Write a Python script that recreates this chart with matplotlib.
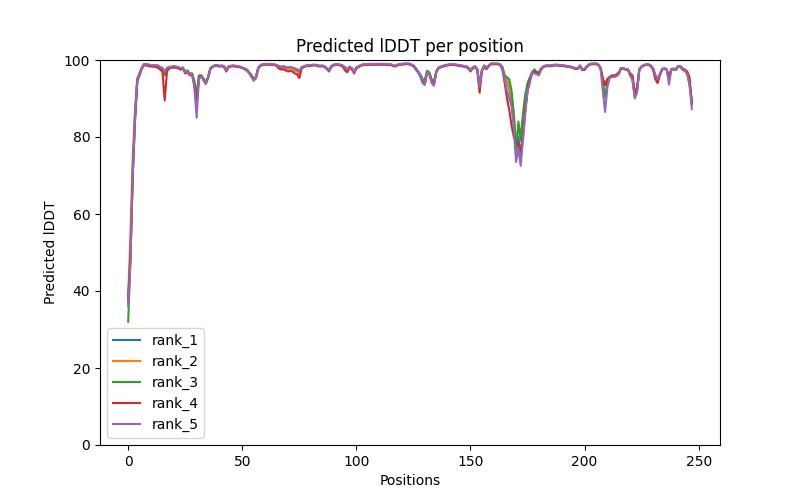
import matplotlib
matplotlib.use("Agg")
import matplotlib.pyplot as plt

rank_1 = [
    37.0, 50.0, 72.0, 86.0, 95.0, 96.5, 98.0, 98.9, 98.9, 98.7,
    98.6, 98.6, 98.5, 98.5, 98.0, 97.8, 96.5, 97.8, 98.0, 98.2,
    98.3, 98.2, 98.0, 97.8, 98.0, 96.8, 97.0, 96.3, 96.5, 94.0,
    88.0, 95.5, 96.0, 95.0, 94.0, 95.5, 97.8, 98.3, 98.6, 98.6,
    98.4, 98.5, 98.3, 97.3, 98.3, 98.4, 98.5, 98.4, 98.3, 98.2,
    98.0, 97.8, 97.5, 96.8, 96.0, 95.0, 95.5, 98.0, 98.6, 98.8,
    98.9, 98.9, 98.9, 98.8, 98.8, 98.6, 98.4, 98.0, 98.2, 98.0,
    97.8, 98.0, 97.8, 97.5, 97.3, 96.8, 98.0, 98.3, 98.5, 98.5,
    98.6, 98.7, 98.7, 98.6, 98.4, 98.5, 98.3, 97.8, 97.0, 98.3,
    98.7, 98.8, 98.8, 98.7, 98.5, 98.0, 97.5, 98.2, 97.8, 96.8,
    98.0, 98.3, 98.6, 98.8, 98.8, 98.8, 98.9, 98.9, 98.9, 98.9,
    98.9, 98.9, 98.9, 98.9, 98.8, 98.8, 98.6, 98.4, 98.7, 98.9,
    98.9, 99.0, 99.0, 99.0, 98.8, 98.5, 97.8, 97.0, 96.0, 94.5,
    94.0, 97.0, 96.5, 94.5, 93.8, 97.0, 98.0, 98.2, 98.4, 98.6,
    98.7, 98.8, 98.8, 98.8, 98.7, 98.6, 98.5, 98.4, 98.3, 98.0,
    97.3, 98.0, 98.3, 97.5, 93.0, 97.3, 98.5, 97.8, 98.5, 99.0,
    99.0, 99.0, 99.0, 98.8, 98.0, 95.5, 94.5, 92.5, 89.0, 84.0,
    76.0, 80.0, 75.0, 81.0, 87.0, 92.0, 94.5, 96.5, 97.5, 96.8,
    96.8, 97.8, 98.3, 98.5, 98.5, 98.5, 98.6, 98.7, 98.7, 98.6,
    98.6, 98.5, 98.4, 98.3, 98.2, 98.0, 97.8, 97.8, 98.5, 97.5,
    97.5, 98.3, 98.8, 99.0, 99.0, 99.0, 98.8, 98.0, 95.0, 93.5,
    95.0, 95.5, 95.8, 95.8, 96.0, 96.5, 97.8, 97.8, 97.5, 97.5,
    96.3, 95.5, 91.0, 92.5, 97.5, 98.3, 98.6, 98.8, 98.8, 98.5,
    97.8, 96.0, 95.0, 96.3, 97.6, 97.8, 97.5, 95.0, 97.5, 97.6,
    97.4, 98.3, 98.3, 97.5, 97.2, 96.5, 94.0, 89.0,
]

rank_2 = [
    39.0, 55.0, 75.0, 87.0, 95.2, 96.6, 98.0, 98.9, 98.9, 98.7,
    98.6, 98.6, 98.5, 98.5, 98.0, 97.8, 96.8, 97.8, 98.0, 98.2,
    98.3, 98.2, 98.0, 97.8, 98.0, 96.8, 97.0, 96.3, 96.5, 94.0,
    89.0, 95.5, 96.0, 95.0, 94.0, 95.5, 97.8, 98.3, 98.6, 98.6,
    98.4, 98.5, 98.3, 97.3, 98.3, 98.4, 98.5, 98.4, 98.3, 98.2,
    98.0, 97.8, 97.5, 96.8, 96.0, 95.0, 95.5, 98.0, 98.6, 98.8,
    98.9, 98.9, 98.9, 98.8, 98.8, 98.6, 98.3, 97.8, 98.0, 97.8,
    97.6, 97.8, 97.6, 97.2, 97.0, 96.4, 98.0, 98.3, 98.5, 98.5,
    98.6, 98.7, 98.7, 98.6, 98.4, 98.5, 98.3, 97.8, 97.4, 98.3,
    98.7, 98.8, 98.8, 98.7, 98.5, 98.0, 97.5, 98.2, 97.8, 96.8,
    98.0, 98.3, 98.6, 98.8, 98.8, 98.8, 98.9, 98.9, 98.9, 98.9,
    98.9, 98.9, 98.9, 98.9, 98.8, 98.8, 98.6, 98.4, 98.7, 98.9,
    98.9, 99.0, 99.0, 99.0, 98.8, 98.5, 97.8, 97.0, 96.0, 94.8,
    94.3, 97.0, 96.5, 94.5, 94.0, 97.0, 98.0, 98.2, 98.4, 98.6,
    98.7, 98.8, 98.8, 98.8, 98.7, 98.6, 98.5, 98.4, 98.3, 98.0,
    97.5, 98.0, 98.3, 97.5, 93.0, 97.3, 98.5, 97.8, 98.5, 99.0,
    99.0, 99.0, 99.0, 98.8, 98.0, 95.5, 94.8, 93.0, 90.0, 86.0,
    78.0, 83.0, 80.5, 85.0, 90.0, 93.0, 95.0, 96.5, 97.5, 96.8,
    96.8, 97.8, 98.3, 98.5, 98.5, 98.5, 98.6, 98.7, 98.7, 98.6,
    98.6, 98.5, 98.4, 98.3, 98.2, 98.0, 97.8, 97.8, 98.5, 97.5,
    97.5, 98.3, 98.8, 99.0, 99.0, 99.0, 98.8, 98.0, 95.2, 93.8,
    95.0, 95.5, 95.8, 95.8, 96.0, 96.5, 97.8, 97.8, 97.5, 97.5,
    96.0, 95.0, 91.0, 92.0, 97.5, 98.3, 98.6, 98.8, 98.8, 98.5,
    97.8, 96.0, 95.0, 96.3, 97.6, 97.8, 97.5, 95.2, 97.5, 97.6,
    97.4, 98.3, 98.3, 97.5, 97.2, 96.5, 94.5, 89.2,
]

rank_3 = [
    32.0, 48.0, 70.0, 85.0, 95.0, 96.5, 98.0, 98.9, 98.9, 98.7,
    98.6, 98.6, 98.5, 98.5, 98.0, 97.6, 96.0, 97.6, 98.0, 98.2,
    98.3, 98.2, 98.0, 97.8, 98.0, 97.0, 97.3, 96.5, 96.5, 94.5,
    91.0, 96.0, 96.0, 95.2, 94.3, 95.5, 97.8, 98.3, 98.6, 98.6,
    98.4, 98.5, 98.3, 97.5, 98.3, 98.4, 98.5, 98.4, 98.3, 98.2,
    98.0, 97.8, 97.5, 96.8, 96.0, 95.2, 95.5, 98.0, 98.6, 98.8,
    98.9, 98.9, 98.9, 98.8, 98.8, 98.6, 98.4, 98.2, 98.3, 98.2,
    98.0, 98.2, 98.0, 97.8, 97.5, 97.0, 98.0, 98.3, 98.5, 98.5,
    98.6, 98.7, 98.7, 98.6, 98.4, 98.5, 98.3, 97.8, 97.3, 98.3,
    98.7, 98.8, 98.8, 98.7, 98.5, 98.0, 97.5, 98.2, 97.8, 97.0,
    98.0, 98.3, 98.6, 98.8, 98.8, 98.8, 98.9, 98.9, 98.9, 98.9,
    98.9, 98.9, 98.9, 98.9, 98.8, 98.8, 98.6, 98.4, 98.7, 98.9,
    98.9, 99.0, 99.0, 99.0, 98.8, 98.5, 97.8, 97.0, 96.3, 95.0,
    94.8, 97.2, 96.8, 95.0, 94.3, 97.0, 98.0, 98.2, 98.4, 98.6,
    98.7, 98.8, 98.8, 98.8, 98.7, 98.6, 98.5, 98.4, 98.3, 98.0,
    97.0, 98.0, 98.3, 97.7, 93.5, 97.3, 98.5, 97.8, 98.5, 99.0,
    99.0, 99.0, 99.0, 98.8, 98.2, 96.0, 95.5, 95.0, 92.0, 86.0,
    75.5, 84.0, 79.0, 86.0, 91.0, 94.0, 95.5, 96.8, 97.5, 96.8,
    96.8, 97.8, 98.3, 98.5, 98.5, 98.5, 98.6, 98.7, 98.7, 98.6,
    98.6, 98.5, 98.4, 98.3, 98.2, 98.0, 97.8, 97.8, 98.5, 97.5,
    97.5, 98.3, 98.8, 99.0, 99.0, 99.0, 98.8, 98.0, 94.5, 90.3,
    94.5, 95.5, 95.8, 95.8, 96.0, 96.5, 97.8, 97.8, 97.5, 97.5,
    96.0, 95.0, 90.5, 92.0, 97.5, 98.3, 98.6, 98.8, 98.8, 98.5,
    97.8, 96.0, 95.0, 96.3, 97.6, 97.8, 97.5, 95.0, 97.5, 97.6,
    97.4, 98.3, 98.3, 97.5, 97.2, 96.5, 94.0, 89.0,
]

rank_4 = [
    38.0, 49.0, 70.0, 84.0, 94.5, 96.0, 97.8, 98.6, 98.6, 98.4,
    98.3, 98.3, 98.2, 98.0, 97.5, 97.0, 89.5, 97.0, 97.8, 98.0,
    98.0, 98.0, 97.8, 97.5, 97.8, 96.5, 96.8, 96.0, 96.3, 93.5,
    89.0, 95.3, 95.8, 94.8, 93.8, 95.3, 97.6, 98.2, 98.5, 98.5,
    98.3, 98.4, 98.2, 97.0, 98.2, 98.3, 98.4, 98.3, 98.2, 98.1,
    97.9, 97.6, 97.3, 96.6, 95.8, 94.8, 95.3, 97.8, 98.5, 98.7,
    98.8, 98.8, 98.8, 98.7, 98.7, 98.5, 97.8, 97.5, 97.6, 97.3,
    97.0, 97.2, 97.0, 96.5, 96.3, 95.3, 97.8, 98.2, 98.4, 98.4,
    98.5, 98.6, 98.6, 98.5, 98.3, 98.4, 98.2, 97.7, 97.2, 98.2,
    98.6, 98.7, 98.7, 98.6, 98.3, 97.3, 96.8, 98.0, 97.6, 96.5,
    97.8, 98.2, 98.5, 98.7, 98.7, 98.7, 98.8, 98.8, 98.8, 98.8,
    98.8, 98.8, 98.8, 98.8, 98.7, 98.7, 98.5, 98.3, 98.6, 98.8,
    98.8, 98.9, 98.9, 98.9, 98.7, 98.4, 97.6, 96.8, 95.8, 94.3,
    94.0, 96.8, 96.3, 94.3, 93.8, 96.8, 97.8, 98.1, 98.3, 98.5,
    98.6, 98.7, 98.7, 98.7, 98.6, 98.5, 98.4, 98.3, 98.2, 97.8,
    97.2, 97.8, 98.2, 97.3, 91.5, 97.0, 98.3, 97.6, 98.4, 98.9,
    98.9, 98.9, 98.9, 98.7, 97.5, 94.0, 90.0, 87.0, 83.0, 80.0,
    78.5, 78.0, 76.5, 80.0, 87.0, 92.0, 95.0, 96.5, 97.0, 96.5,
    96.5, 97.5, 98.2, 98.4, 98.4, 98.4, 98.5, 98.6, 98.6, 98.5,
    98.5, 98.4, 98.3, 98.2, 98.1, 97.9, 97.7, 97.7, 98.4, 97.4,
    97.4, 98.2, 98.7, 98.9, 98.9, 98.9, 98.7, 97.8, 95.0, 93.5,
    95.0, 95.6, 96.0, 96.0, 96.2, 96.8, 97.9, 97.9, 97.6, 97.4,
    96.5, 96.0, 91.5, 93.0, 97.5, 98.3, 98.6, 98.8, 98.8, 98.4,
    97.5, 95.0, 94.0, 96.0, 97.5, 97.8, 97.5, 95.5, 97.6, 97.8,
    97.6, 98.4, 98.4, 97.8, 97.5, 97.0, 95.5, 88.5,
]

rank_5 = [
    36.0, 48.0, 70.0, 85.0, 95.0, 96.5, 98.0, 98.9, 98.9, 98.8,
    98.7, 98.7, 98.6, 98.6, 98.2, 98.0, 97.0, 98.0, 98.2, 98.3,
    98.4, 98.3, 98.1, 97.9, 98.0, 96.8, 97.0, 96.2, 96.3, 93.0,
    85.0, 95.0, 95.8, 94.8, 93.8, 95.3, 97.8, 98.3, 98.6, 98.6,
    98.5, 98.6, 98.4, 97.3, 98.4, 98.5, 98.6, 98.5, 98.4, 98.3,
    98.0, 97.8, 97.5, 96.6, 95.6, 94.6, 95.3, 98.0, 98.7, 98.9,
    99.0, 99.0, 99.0, 98.9, 98.9, 98.7, 98.5, 98.2, 98.4, 98.2,
    98.0, 98.2, 98.0, 97.8, 97.6, 97.2, 98.1, 98.4, 98.6, 98.6,
    98.7, 98.8, 98.8, 98.7, 98.5, 98.6, 98.4, 97.9, 97.3, 98.4,
    98.8, 98.9, 98.9, 98.8, 98.6, 98.1, 97.6, 98.3, 97.9, 96.8,
    98.1, 98.4, 98.7, 98.9, 98.9, 98.9, 99.0, 99.0, 99.0, 99.0,
    99.0, 99.0, 99.0, 99.0, 98.9, 98.9, 98.7, 98.5, 98.8, 99.0,
    99.0, 99.1, 99.1, 99.1, 98.9, 98.6, 97.9, 97.0, 95.8, 94.0,
    93.5, 96.8, 96.3, 94.0, 93.3, 96.8, 98.0, 98.3, 98.5, 98.7,
    98.8, 98.9, 98.9, 98.9, 98.8, 98.7, 98.6, 98.5, 98.4, 98.1,
    97.4, 98.1, 98.4, 97.5, 93.0, 97.2, 98.6, 97.9, 98.6, 99.1,
    99.1, 99.1, 99.1, 98.9, 97.8, 95.0, 92.0, 90.0, 88.0, 82.0,
    73.5, 77.0, 72.5, 79.0, 86.0, 92.0, 94.0, 97.0, 96.5, 96.3,
    96.0, 97.5, 98.4, 98.6, 98.6, 98.6, 98.7, 98.8, 98.8, 98.7,
    98.7, 98.6, 98.5, 98.4, 98.3, 98.1, 97.9, 97.9, 98.6, 97.6,
    97.6, 98.4, 98.9, 99.1, 99.1, 99.1, 98.9, 97.8, 92.0, 86.5,
    93.0, 95.3, 95.6, 95.6, 95.8, 96.3, 97.9, 97.9, 97.6, 97.6,
    96.0, 94.8, 90.0, 91.5, 97.6, 98.4, 98.7, 98.9, 98.9, 98.6,
    97.9, 96.0, 95.0, 96.3, 97.7, 97.9, 97.6, 93.6, 97.6, 97.7,
    97.5, 98.4, 98.4, 97.6, 97.2, 96.3, 93.5, 87.3,
]

ranks = {
    'rank_1': rank_1,
    'rank_2': rank_2,
    'rank_3': rank_3,
    'rank_4': rank_4,
    'rank_5': rank_5,
}

fig = plt.figure(figsize=(8, 5), dpi=100)
for name, plddt in ranks.items():
    plt.plot(range(len(plddt)), plddt, label=name)
plt.title('Predicted lDDT per position')
plt.legend()
plt.ylim(0, 100)
plt.ylabel('Predicted lDDT')
plt.xlabel('Positions')
plt.savefig('out.png', dpi=100)
